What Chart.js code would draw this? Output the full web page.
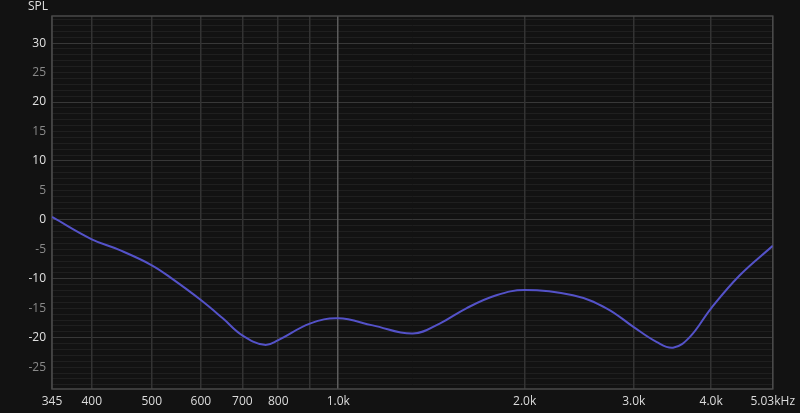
<!DOCTYPE html>
<html>
<head>
<meta charset="utf-8">
<script src="https://cdn.jsdelivr.net/npm/chart.js@4"></script>
<style>
  html, body { margin: 0; padding: 0; background: #121212; }
  #wrap { width: 800px; height: 413px; }
</style>
</head>
<body>
<div id="wrap"><canvas id="spl"></canvas></div>
<script>
// response curve
const freqs = [345, 400, 443, 500, 541, 600, 651, 700, 760, 800, 900, 1000, 1137, 1320, 1458, 1610, 1800, 2000, 2393, 2710, 3000, 3264, 3472, 3694, 4000, 4450, 5030];
const spl = [0.5, -3.3, -5.1, -7.7, -10.1, -13.6, -16.7, -19.6, -21.2, -20.4, -17.6, -16.7, -17.9, -19.3, -17.6, -15.0, -12.8, -11.9, -12.8, -15.0, -18.2, -20.7, -21.7, -19.9, -15.0, -9.4, -4.4];

const xTicks = [345, 400, 500, 600, 700, 800, 900, 1000, 2000, 3000, 4000, 5030];
const xLabels = ['345', '400', '500', '600', '700', '800', '', '1.0k', '2.0k', '3.0k', '4.0k', '5.03kHz'];
const yMin = -28.7, yMax = 34.6;

const points = freqs.map((f, i) => ({x: f, y: spl[i]}));

// frame round the plot + the SPL caption
const framePlugin = {
  id: 'frame',
  beforeDatasetsDraw(chart) {
    const a = chart.chartArea, ctx = chart.ctx;
    ctx.save();
    ctx.strokeStyle = '#4a4a4a';
    ctx.lineWidth = 1.5;
    ctx.strokeRect(a.left, a.top, a.right - a.left, a.bottom - a.top);
    ctx.restore();
  },
  afterDraw(chart) {
    const ctx = chart.ctx;
    ctx.save();
    ctx.font = '12px "Open Sans"';
    ctx.fillStyle = '#e0e0e0';
    ctx.textAlign = 'left';
    ctx.textBaseline = 'middle';
    ctx.fillText('SPL', 28, 7);
    ctx.restore();
  }
};

new Chart(document.getElementById('spl').getContext('2d'), {
  type: 'line',
  data: {
    datasets: [{
      data: points,
      borderColor: '#5452c8',
      borderWidth: 2,
      pointRadius: 0,
      fill: false,
      tension: 0.4
    }]
  },
  options: {
    responsive: true,
    maintainAspectRatio: false,
    animation: false,
    layout: {padding: {top: 16, right: 27, left: 0, bottom: 0}},
    plugins: {legend: {display: false}, tooltip: {enabled: false}},
    scales: {
      x: {
        type: 'logarithmic',
        min: 345,
        max: 5030,
        afterBuildTicks: s => { s.ticks = xTicks.map(v => ({value: v})); },
        afterFit: s => { s.height = 24; },
        grid: {
          z: -1,
          drawTicks: false,
          lineWidth: 1.5,
          color: c => (c.tick && c.tick.value === 1000) ? '#5c5c5c' : '#333333'
        },
        border: {display: false},
        ticks: {
          autoSkip: false,
          maxRotation: 0,
          padding: 5,
          color: '#dcdcdc',
          font: {family: 'Open Sans', size: 12},
          callback: (v) => {
            const i = xTicks.indexOf(v);
            return i >= 0 ? xLabels[i] : '';
          }
        }
      },
      y: {
        min: yMin,
        max: yMax,
        afterBuildTicks: s => {
          const t = [];
          for (let v = -28; v <= 34; v++) t.push({value: v});
          s.ticks = t;
        },
        afterFit: s => { s.width = 52; },
        grid: {
          z: -2,
          drawTicks: false,
          lineWidth: 1,
          color: c => (c.tick && c.tick.value % 10 === 0) ? '#383838' : '#1f1f1f'
        },
        border: {display: false},
        ticks: {
          autoSkip: false,
          padding: 6,
          font: {family: 'Open Sans', size: 12},
          color: c => (c.tick.value % 10 === 0) ? '#e0e0e0' : '#8a8a8a',
          callback: v => (v % 5 === 0 ? String(v) : '')
        }
      }
    }
  },
  plugins: [framePlugin]
});
</script>
</body>
</html>
